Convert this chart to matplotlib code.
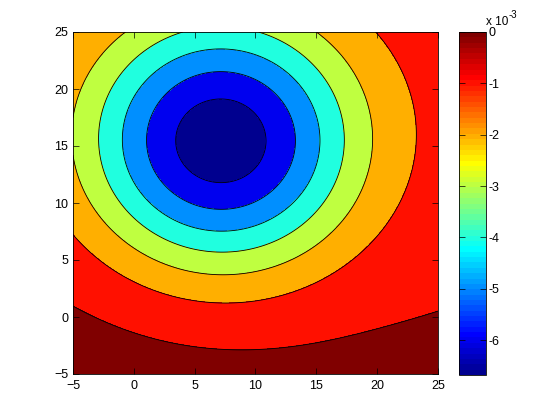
import numpy as np
import matplotlib
matplotlib.use("Agg")
import matplotlib.pyplot as plt
from matplotlib.colors import Normalize, ListedColormap
from matplotlib.cm import ScalarMappable
from matplotlib.ticker import FuncFormatter

plt.rcParams['font.family'] = ['Liberation Sans', 'DejaVu Sans']

# ---------------- data (values in units of 1e-3) ----------------
x_ticks = [-5, 0, 5, 10, 15, 20, 25]
y_ticks = [-5, 0, 5, 10, 15, 20, 25]
cbar_ticks = [-6, -5, -4, -3, -2, -1, 0]
levels = [-6, -5, -4, -3, -2, -1, 0]
z_min = -6.68                 # value at the bottom of the colour bar (field minimum)
z_max = 0.0
well_centre = (7.1, 15.3)     # location of the minimum

# points lying on each contour line (x, y)
pts_m6 = [(3.38, 15.3), (10.83, 15.3), (7.0, 18.88), (7.0, 11.52), (4.34, 17.87)]
pts_m5 = [(1.0, 15.3), (13.3, 15.3), (7.0, 21.3), (7.0, 9.3), (4.34, 20.64), (3.66, 10.26)]
pts_m4 = [(-0.95, 15.3), (15.38, 15.3), (7.0, 23.42), (7.0, 7.43), (2.37, 21.84),
          (11.88, 21.84), (0.78, 10.26), (4.89, 8.07), (9.14, 7.63), (13.38, 10.26), (6.8, 23.36)]
pts_m3 = [(-2.84, 15.3), (17.43, 15.3), (7.0, 5.64), (3.47, 25.0), (10.78, 25.0),
          (-0.59, 21.84), (14.97, 21.84), (-1.14, 21.25), (-1.28, 10.26), (2.15, 7.34),
          (4.89, 6.02), (9.14, 5.88), (15.7, 10.26), (-2.78, 16.0), (-1.14, 10.0)]
pts_m2 = [(-5.0, 17.9), (-5.0, 14.1), (-1.08, 25.0), (15.3, 25.0), (-3.55, 21.84),
          (17.63, 21.84), (19.76, 15.3), (-3.46, 10.26), (0.0, 5.88), (4.89, 3.97),
          (7.0, 3.66), (9.14, 3.97), (14.6, 5.88), (17.08, 7.92), (18.6, 10.26)]
pts_m1 = [(-5.0, 7.72), (19.9, 25.0), (21.6, 21.84), (21.05, 23.16), (23.1, 16.0),
          (21.05, 8.54), (0.0, 3.25), (4.89, 1.78), (7.0, 1.43), (9.14, 1.49),
          (14.89, 2.96), (17.36, 4.71), (20.1, 7.34), (21.9, 10.26)]
pts_0 = [(-5.0, 0.99), (-1.14, -1.25), (0.0, -2.02), (4.89, -2.9), (7.0, -2.98),
         (9.14, -2.96), (14.89, -1.73), (19.96, -0.85), (21.05, -0.53), (25.0, 0.55)]
# rough values inside regions (corners), from the region colours
corner_pts = [(25.0, 25.0), (-5.0, 25.0), (-5.0, -5.0), (7.0, -5.0), (25.0, -5.0), (25.0, 10.0)]
corner_vals = [-0.55, -1.6, 0.4, 0.35, 0.6, -0.55]

contour_points = [pts_m6, pts_m5, pts_m4, pts_m3, pts_m2, pts_m1, pts_0]

# ---------------- smooth field through the read points (least squares) ----------------
cx, cy = well_centre
widths = [3.0, 4.5, 6.0, 8.0, 10.0, 13.0, 17.0, 22.0]


def basis(x, y):
    x = np.asarray(x, float)
    y = np.asarray(y, float)
    r2 = (x - cx) ** 2 + (y - cy) ** 2
    cols = [np.exp(-r2 / (2 * s * s)) for s in widths]
    u = (x - 10) / 15
    v = (y - 10) / 15
    cols += [np.ones_like(u), u, v, u * u, u * v, v * v]
    return np.stack(cols, axis=-1)


px, py, pv, pw = [], [], [], []
for lev, pts in zip(levels, contour_points):
    for (a, b) in pts:
        px.append(a); py.append(b); pv.append(lev); pw.append(1.0)
px.append(cx); py.append(cy); pv.append(z_min); pw.append(3.0)
for (a, b), val in zip(corner_pts, corner_vals):
    px.append(a); py.append(b); pv.append(val); pw.append(0.3)

A = basis(px, py)
w = np.array(pw)
b = np.array(pv)
Aw = A * w[:, None]
bw = b * w
lam = 1e-4
coef = np.linalg.solve(Aw.T @ Aw + lam * np.eye(A.shape[1]), Aw.T @ bw)

xg = np.linspace(-5, 25, 301)
yg = np.linspace(-5, 25, 301)
X, Y = np.meshgrid(xg, yg)
Z = (basis(X, Y) @ coef) * 1e-3


# ---------------- MATLAB-style jet(64) colormap ----------------
def matlab_jet(m=64):
    n = int(np.ceil(m / 4))
    u = np.concatenate([np.arange(1, n + 1) / n, np.ones(n - 1), np.arange(n, 0, -1) / n])
    g = int(np.ceil(n / 2)) - (1 if m % 4 == 1 else 0) + np.arange(1, len(u) + 1)
    r = g + n
    bb = g - n
    J = np.zeros((m, 3))
    for col, idx in ((0, r), (1, g), (2, bb)):
        ok = (idx >= 1) & (idx <= m)
        J[idx[ok] - 1, col] = u[ok]
    return ListedColormap(J)


cmap = matlab_jet(64)
norm = Normalize(vmin=z_min * 1e-3, vmax=z_max)
lev_real = [l * 1e-3 for l in levels]
fill_levels = [-1.0] + lev_real + [1.0]
fill_colors = [cmap(norm(z_min * 1e-3))] + [cmap(norm(l)) for l in lev_real]

fig = plt.figure(figsize=(5.6, 4.2), dpi=100)
ax = fig.add_axes([73 / 560, 46 / 420, 365 / 560, 342 / 420])
ax.contourf(X, Y, Z, levels=fill_levels, colors=fill_colors)
ax.contour(X, Y, Z, levels=lev_real, colors='k', linewidths=0.6, linestyles='solid')
ax.set_xlim(-5, 25)
ax.set_ylim(-5, 25)
ax.set_xticks(x_ticks)
ax.set_yticks(y_ticks)
ax.tick_params(direction='in', top=True, right=True, length=4, width=0.5,
               labelsize=9, colors='k')
ax.tick_params(axis='x', pad=4)
ax.tick_params(axis='y', pad=3.5)
for sp in ax.spines.values():
    sp.set_linewidth(0.6)

cax = fig.add_axes([459 / 560, 45 / 420, 27 / 560, 343 / 420])
cb = fig.colorbar(ScalarMappable(norm=norm, cmap=cmap), cax=cax)
cb.set_ticks([t * 1e-3 for t in cbar_ticks])
cb.ax.yaxis.set_major_formatter(FuncFormatter(lambda v, p: '%d' % round(v * 1e3)))
cax.tick_params(direction='in', left=True, right=True, length=4, width=0.5,
                labelsize=9, pad=1.5)
cb.outline.set_linewidth(0.6)

fig.text(485.5 / 560, (420 - 25) / 420, 'x 10', fontsize=8.5, ha='left', va='baseline')
fig.text(509 / 560, (420 - 18) / 420, '-3', fontsize=7, ha='left', va='baseline')

fig.savefig('out.png', dpi=100)
